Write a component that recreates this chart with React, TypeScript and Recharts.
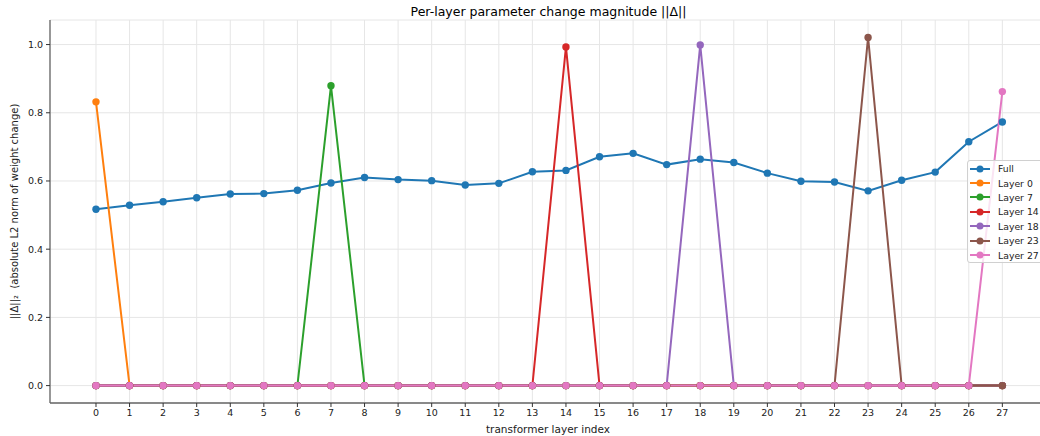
import React from "react";
import { LineChart, Line, XAxis, YAxis, CartesianGrid } from "recharts";

const layers = [0,1,2,3,4,5,6,7,8,9,10,11,12,13,14,15,16,17,18,19,20,21,22,23,24,25,26,27];
const full = [0.517,0.529,0.539,0.551,0.562,0.563,0.573,0.594,0.610,0.604,0.601,0.588,0.593,0.627,0.631,0.671,0.681,0.648,0.664,0.654,0.623,0.599,0.597,0.571,0.602,0.626,0.715,0.773];
const layer0 = [0.832,0,0,0,0,0,0,0,0,0,0,0,0,0,0,0,0,0,0,0,0,0,0,0,0,0,0,0];
const layer7 = [0,0,0,0,0,0,0,0.879,0,0,0,0,0,0,0,0,0,0,0,0,0,0,0,0,0,0,0,0];
const layer14 = [0,0,0,0,0,0,0,0,0,0,0,0,0,0,0.993,0,0,0,0,0,0,0,0,0,0,0,0,0];
const layer18 = [0,0,0,0,0,0,0,0,0,0,0,0,0,0,0,0,0,0,0.999,0,0,0,0,0,0,0,0,0];
const layer23 = [0,0,0,0,0,0,0,0,0,0,0,0,0,0,0,0,0,0,0,0,0,0,0,1.021,0,0,0,0];
const layer27 = [0,0,0,0,0,0,0,0,0,0,0,0,0,0,0,0,0,0,0,0,0,0,0,0,0,0,0,0.862];
const yTicks = [0, 0.2, 0.4, 0.6, 0.8, 1.0];

const series = [
  { key: "full", name: "Full", color: "#1f77b4", values: full },
  { key: "l0", name: "Layer 0", color: "#ff7f0e", values: layer0 },
  { key: "l7", name: "Layer 7", color: "#2ca02c", values: layer7 },
  { key: "l14", name: "Layer 14", color: "#d62728", values: layer14 },
  { key: "l18", name: "Layer 18", color: "#9467bd", values: layer18 },
  { key: "l23", name: "Layer 23", color: "#8c564b", values: layer23 },
  { key: "l27", name: "Layer 27", color: "#e377c2", values: layer27 },
];

const data = layers.map((x, i) => {
  const row: Record<string, number> = { x };
  series.forEach((s) => (row[s.key] = s.values[i]));
  return row;
});

const FONT = "'DejaVu Sans', sans-serif";
const SPINE = "#666";
const TXT = "#222";
const PAGE_CSS = "html,body{margin:0;padding:0;overflow:hidden;background:#fff}#root{width:1040px;height:436px;overflow:hidden;position:relative}";

export default function App() {
  return (
    <div style={{ width: 1040, height: 436, overflow: "hidden", position: "relative", background: "#fff", fontFamily: FONT }}>
      <style>{PAGE_CSS}</style>
      <div style={{ position: "absolute", left: 50, top: 3, width: 997, height: 18, lineHeight: "18px", textAlign: "center", fontSize: 12.5, color: "#000", whiteSpace: "nowrap" }}>
        Per-layer parameter change magnitude ||Δ||
      </div>
      <LineChart width={1060} height={436} data={data} margin={{ top: 20, right: 13, bottom: 0, left: 0 }} style={{ fontFamily: FONT }}>
        <CartesianGrid stroke="#e6e6e6" strokeWidth={1} />
        <XAxis
          dataKey="x"
          type="number"
          domain={[-1.37, 28.33]}
          ticks={layers}
          interval={0}
          allowDataOverflow
          height={33}
          tickSize={4}
          tickMargin={2}
          axisLine={{ stroke: SPINE, strokeWidth: 1.3 }}
          tickLine={{ stroke: "#333" }}
          tick={{ fontSize: 9.5, fill: TXT }}
          label={{
            content: () => (
              <text x={548} y={429} textAnchor="middle" dominantBaseline="central" fontSize={10.5} fill={TXT} fontFamily={FONT}>
                transformer layer index
              </text>
            ),
          }}
        />
        <XAxis
          xAxisId="top"
          orientation="top"
          dataKey="x"
          type="number"
          domain={[-1.37, 28.33]}
          height={0}
          tick={false}
          tickLine={false}
          axisLine={{ stroke: SPINE, strokeWidth: 1.3 }}
        />
        <YAxis
          type="number"
          domain={[-0.051, 1.072]}
          ticks={yTicks}
          allowDataOverflow
          width={50}
          tickSize={4}
          tickMargin={3}
          axisLine={{ stroke: SPINE, strokeWidth: 1.3 }}
          tickLine={{ stroke: "#333" }}
          tick={{ fontSize: 9.5, fill: TXT }}
          tickFormatter={(v: number) => v.toFixed(1)}
          label={{
            content: () => (
              <text x={14} y={211.5} transform="rotate(-90 14 211.5)" textAnchor="middle" dominantBaseline="central" fontSize={10} fill={TXT} fontFamily={FONT}>
                {"||Δ||₂\u00a0\u00a0(absolute L2 norm of weight change)"}
              </text>
            ),
          }}
        />
        {series.map((s) => (
          <Line
            key={s.key}
            dataKey={s.key}
            name={s.name}
            type="linear"
            stroke={s.color}
            strokeWidth={2}
            dot={{ r: 3.7, fill: s.color, stroke: s.color, strokeWidth: 0 }}
            activeDot={false}
            isAnimationActive={false}
          />
        ))}
      </LineChart>
      <div style={{ position: "absolute", left: 967, top: 160, width: 78, height: 103, background: "rgba(255,255,255,0.8)", border: "1px solid #d0d0d0", borderRadius: 3, boxSizing: "border-box" }}>
        {series.map((s, i) => (
          <div key={s.key} style={{ position: "absolute", left: 0, top: 0.5 + i * 14.4, height: 14.4, width: 80, display: "flex", alignItems: "center" }}>
            <svg width={28} height={14} style={{ flex: "none" }}>
              <line x1={2} x2={22} y1={7} y2={7} stroke={s.color} strokeWidth={2} />
              <circle cx={12} cy={7} r={3.5} fill={s.color} />
            </svg>
            <span style={{ fontSize: 9.3, color: TXT, marginLeft: 2, whiteSpace: "nowrap" }}>{s.name}</span>
          </div>
        ))}
      </div>
    </div>
  );
}
